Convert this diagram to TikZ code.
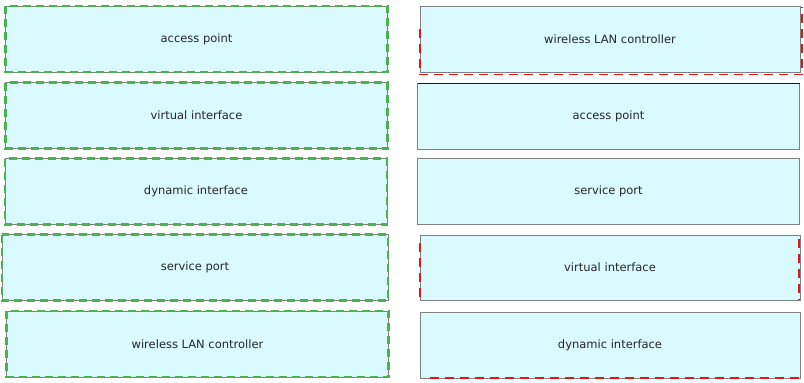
\documentclass[tikz,border=0pt]{standalone}
\usepackage{fontspec}
\setmainfont{DejaVu Sans}
\usetikzlibrary{positioning}
\definecolor{boxfill}{RGB}{217,250,255}
\definecolor{boxedge}{RGB}{128,128,128}
\definecolor{greenmark}{RGB}{76,178,80}
\definecolor{redmark}{RGB}{232,20,20}
\tikzset{
  termbox/.style={draw=boxedge, fill=boxfill, line width=1pt,
    minimum width=382pt, minimum height=66pt, inner sep=0pt, outer sep=0pt,
    text=black!85, font=\fontsize{11.5}{13}\selectfont}
}
\tikzset{
  greendash/.style={draw=greenmark, line width=2.4pt, dash pattern=on 8pt off 5pt}
}
\tikzset{
  reddash/.style={draw=redmark, line width=1.6pt, dash pattern=on 9pt off 6pt}
}

\begin{document}
\begin{tikzpicture}[x=1pt, y=-1pt]
  \useasboundingbox (0,0) rectangle (804,383);
  % left column
  \node[termbox] (apL)  at (196.5,39)   {access point};
  \node[termbox] (viL)  at (196.5,115.5) {virtual interface};
  \node[termbox] (diL)  at (196,191.5)  {dynamic interface};
  \node[termbox, minimum width=386pt] (spL) at (195,267.5) {service port};
  \node[termbox] (wlcL) at (197.5,344)  {wireless LAN controller};
  \foreach \b in {apL,viL,diL,spL,wlcL}
    \draw[greendash] (\b.north west) rectangle (\b.south east);
  % right column
  \node[termbox, minimum width=380pt] (wlcR) at (610,39.5)  {wireless LAN controller};
  \node[termbox] (apR)  at (608.5,116.5) {access point};
  \node[termbox] (spR)  at (608.5,191.5) {service port};
  \node[termbox, minimum width=380pt, minimum height=65pt] (viR) at (610,267.5) {virtual interface};
  \node[termbox, minimum width=380pt] (diR)  at (610,345) {dynamic interface};
  \draw[line width=1.8pt, black!90] (apR.north west) -- (apR.north east);
  \draw[reddash] ([yshift=-22pt]wlcR.north west) -- ([yshift=-2pt]wlcR.south west)
    -- ([xshift=2pt,yshift=-2pt]wlcR.south east) -- ([xshift=2pt]wlcR.north east);
  \draw[reddash] ([yshift=-8pt]viR.north west) -- (viR.south west);
  \draw[reddash] ([xshift=-1pt,yshift=-4pt]viR.north east) -- ([xshift=-1pt]viR.south east);
  \draw[reddash] ([xshift=10pt]diR.south west) -- (diR.south east);
\end{tikzpicture}
\end{document}
